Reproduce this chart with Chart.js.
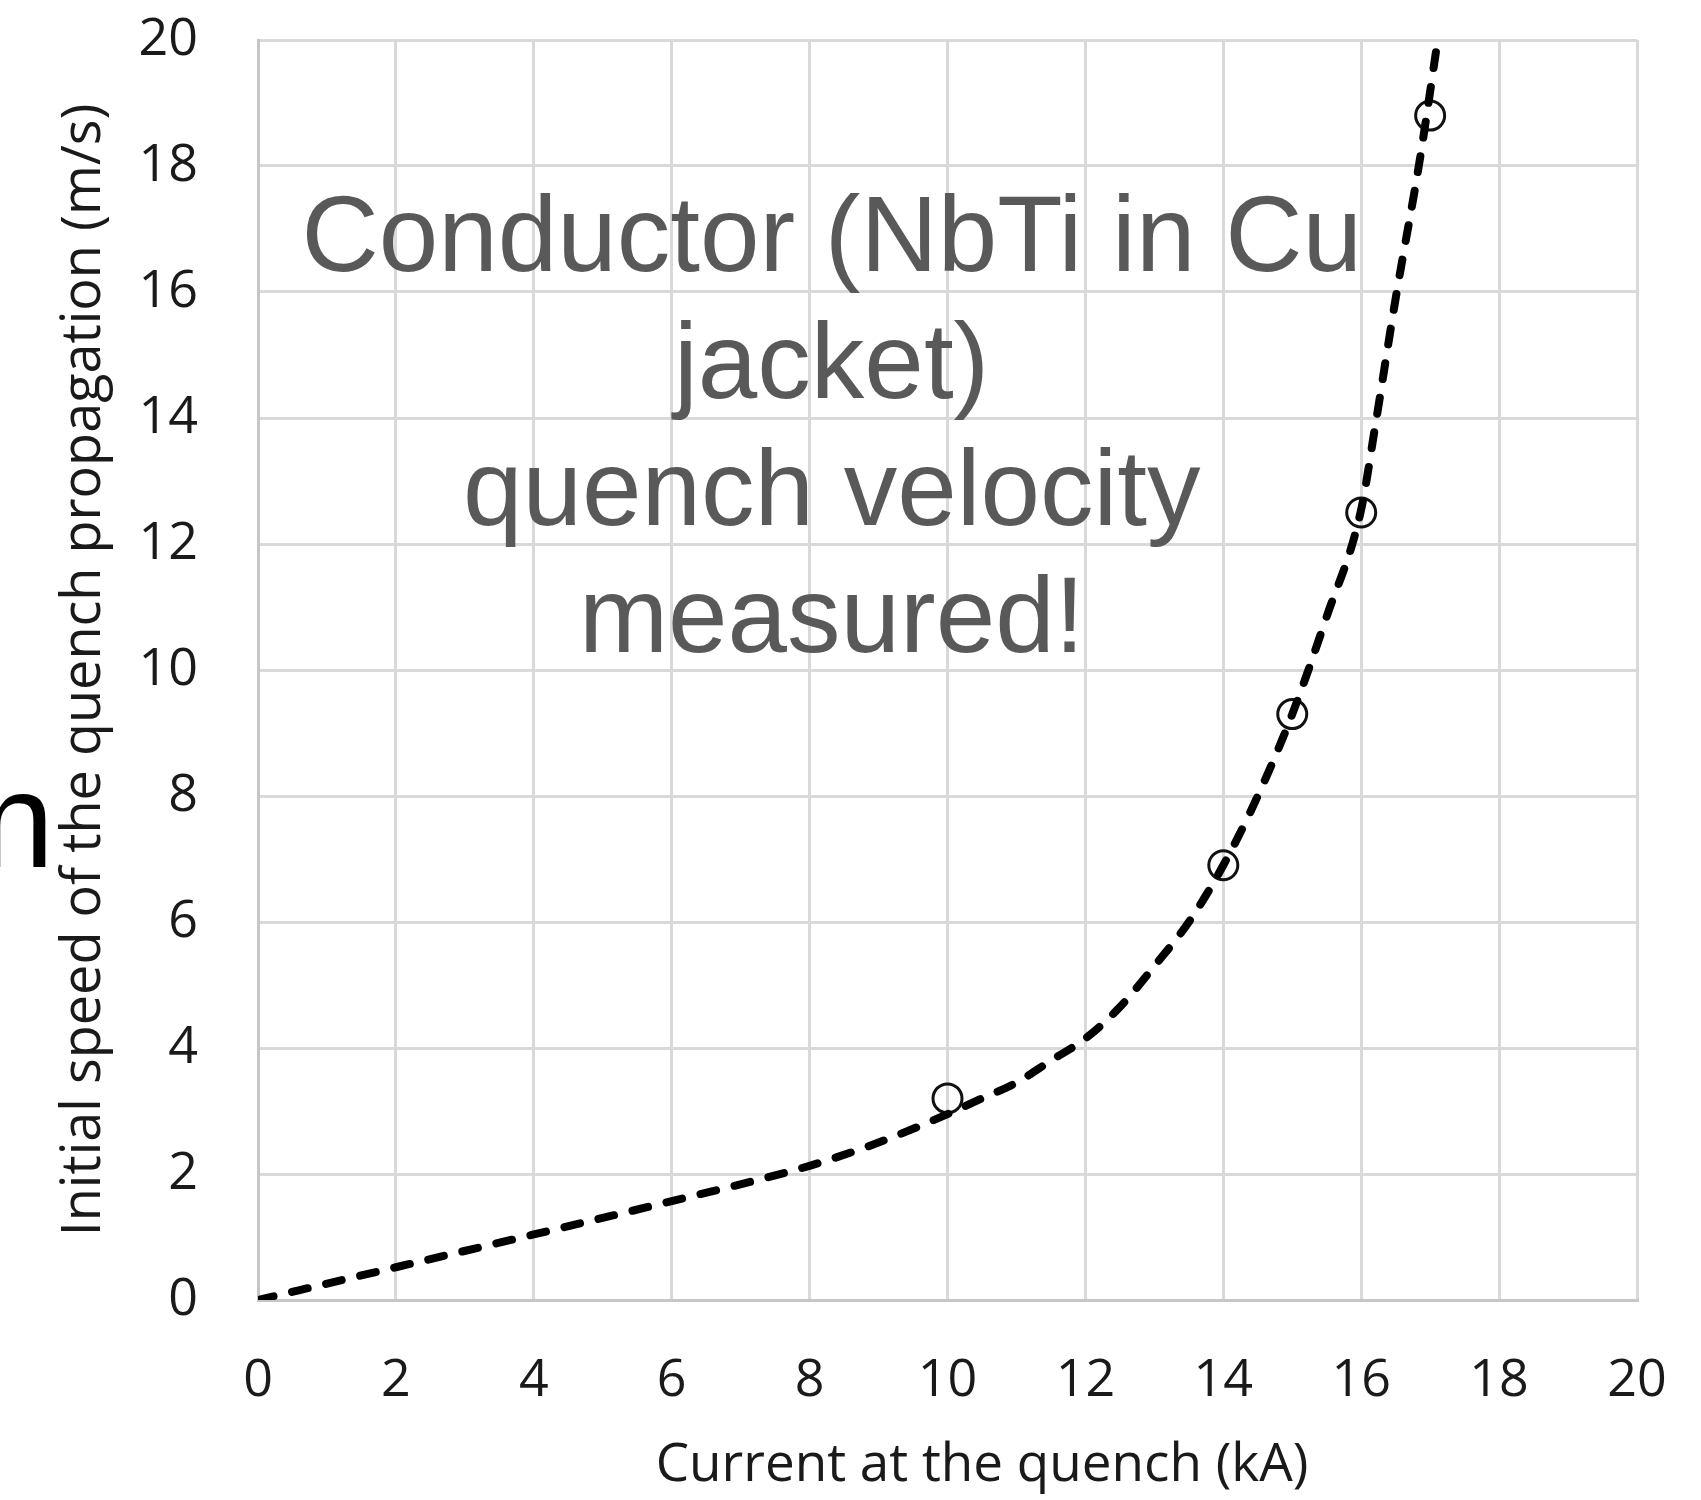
<!DOCTYPE html>
<html>
<head>
<meta charset="utf-8">
<script src="https://cdn.jsdelivr.net/npm/chart.js@4"></script>
<style>
  html, body { margin: 0; padding: 0; background: #ffffff; }
  #wrap { width: 1701px; height: 1500px; }
</style>
</head>
<body>
<div id="wrap"><canvas id="quenchChart" width="1701" height="1500"></canvas></div>
<script>
// fitted curve (dashed)
const curveX = [0, 2, 4, 6, 8, 9, 10, 10.5, 11, 11.5, 12, 12.5, 13, 13.5, 14, 14.5, 15, 15.5, 16, 16.2, 16.5, 16.85, 17.11];
const curveY = [0, 0.52, 1.04, 1.57, 2.13, 2.5, 2.95, 3.2, 3.45, 3.8, 4.15, 4.65, 5.3, 6.0, 6.9, 8.0, 9.3, 10.85, 12.55, 13.85, 15.9, 18.1, 20.0];

// measured points (open circles)
const measuredX = [10, 14, 15, 16, 17];
const measuredY = [3.2, 6.9, 9.3, 12.5, 18.8];

const xTicks = [0, 2, 4, 6, 8, 10, 12, 14, 16, 18, 20];
const yTicks = [0, 2, 4, 6, 8, 10, 12, 14, 16, 18, 20];

const xTitle = "Current at the quench (kA)";
const yTitle = "Initial speed of the quench propagation (m/s)";

const noteLines = ["Conductor (NbTi in Cu", "jacket)", "quench velocity", "measured!"];

const tickFont = { family: "'Open Sans'", size: 52 };
const gridColor = "#d9d9d9";
const textColor = "#1a1a1a";

// big grey text inside the plot, x axis title, cut-off letter on the left
const notePlugin = {
    id: "notePlugin",
    afterDraw(chart) {
        const ctx = chart.ctx;
        const xs = chart.scales.x;
        const ys = chart.scales.y;
        ctx.save();
        ctx.font = "107px 'Liberation Sans'";
        ctx.fillStyle = "#595959";
        ctx.textAlign = "center";
        ctx.textBaseline = "alphabetic";
        const cx = xs.getPixelForValue(8.32);
        noteLines.forEach((line, i) => {
            ctx.fillText(line, cx, ys.getPixelForValue(16.33 - i * 2.015));
        });

        // x title sits a bit right of the axis centre in the original
        ctx.font = "53px 'Open Sans'";
        ctx.fillStyle = textColor;
        ctx.textBaseline = "middle";
        ctx.fillText(xTitle, 982, 1466);

        ctx.font = "135px 'Liberation Sans'";
        ctx.fillStyle = "#000000";
        ctx.textAlign = "right";
        ctx.textBaseline = "alphabetic";
        ctx.fillText("n", 54, 867);
        ctx.restore();
    }
};

const points = (xa, ya) => xa.map((x, i) => ({ x: x, y: ya[i] }));

const ctx = document.getElementById("quenchChart").getContext("2d");

new Chart(ctx, {
    type: "scatter",
    data: {
        datasets: [
            {
                label: "fit",
                data: points(curveX, curveY),
                showLine: true,
                borderColor: "#000000",
                borderWidth: 8,
                borderDash: [16, 19],
                borderCapStyle: "round",
                cubicInterpolationMode: "monotone",
                pointRadius: 0,
                fill: false
            },
            {
                label: "measured",
                data: points(measuredX, measuredY),
                showLine: false,
                pointRadius: 14.5,
                pointBorderWidth: 3,
                pointBorderColor: "#111111",
                pointBackgroundColor: "rgba(0,0,0,0)"
            }
        ]
    },
    options: {
        responsive: false,
        animation: false,
        layout: { padding: { top: 40, right: 64, bottom: 0, left: 0 } },
        plugins: {
            legend: { display: false },
            tooltip: { enabled: false }
        },
        scales: {
            x: {
                type: "linear",
                min: 0,
                max: 20,
                afterBuildTicks: s => { s.ticks = xTicks.map(v => ({ value: v })); },
                afterFit: s => { s.height = 200; s.paddingLeft = 0; s.paddingRight = 0; },
                grid: { color: gridColor, lineWidth: 3, drawTicks: false },
                border: { color: "#c6c6c6", width: 3 },
                ticks: { font: tickFont, color: textColor, padding: 50, maxRotation: 0 },
                title: { display: false, text: xTitle }
            },
            y: {
                type: "linear",
                min: 0,
                max: 20,
                afterBuildTicks: s => { s.ticks = yTicks.map(v => ({ value: v })); },
                afterFit: s => { s.width = 258; s.paddingTop = 0; s.paddingBottom = 0; },
                grid: { color: gridColor, lineWidth: 3, drawTicks: false },
                border: { color: "#c6c6c6", width: 3 },
                ticks: { font: tickFont, color: textColor, padding: 60 },
                title: {
                    display: true,
                    text: yTitle,
                    font: { family: "'Open Sans'", size: 54 },
                    color: textColor,
                    padding: { top: 52, bottom: 0 }
                }
            }
        }
    },
    plugins: [notePlugin]
});
</script>
</body>
</html>
